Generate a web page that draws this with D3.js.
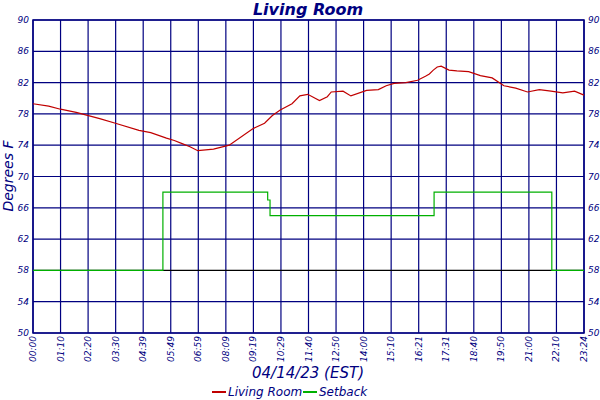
<!DOCTYPE html><html><head><meta charset="utf-8">
<script src="https://cdn.jsdelivr.net/npm/d3@7"></script>
<style>body{margin:0;background:#fff}text{font-family:"DejaVu Sans",sans-serif;font-style:italic}</style></head><body>
<svg id="c" width="600" height="400"></svg>
<script>
const xTickLabels=["00:00","01:10","02:20","03:30","04:39","05:49","06:59","08:09","09:19","10:29","11:40","12:50","14:00","15:10","16:21","17:31","18:40","19:50","21:00","22:10","23:24"];
const yTicks=[50,54,58,62,66,70,74,78,82,86,90];
const roomMinutes=[0,40,70,110,170,210,270,300,340,360,380,400,420,460,500,560,590,610,630,660,680,700,730,750,760,790,810,850,880,900,920,950,980,1000,1010,1020,1030,1040,1060,1080,1110,1140,1170,1200,1230,1260,1290,1320,1350,1380,1404];
const roomValues=[79.3,79.0,78.6,78.2,77.4,76.8,75.9,75.6,74.9,74.6,74.2,73.8,73.3,73.5,74.0,76.1,76.8,77.8,78.5,79.3,80.3,80.5,79.7,80.2,80.8,80.9,80.3,81.0,81.1,81.6,81.9,82.0,82.3,82.8,83.1,83.6,84.0,84.1,83.6,83.5,83.4,82.9,82.6,81.6,81.3,80.8,81.1,80.9,80.7,80.9,80.4];
const setMinutes=[0,331,331,598,598,604,604,1022,1022,1322,1322,1404];
const setValues=[58,58,68,68,67,67,65,65,68,68,58,58];
const svg=d3.select("#c");
const x=d3.scaleLinear().domain([0,1404]).range([33,584]);
const y=d3.scaleLinear().domain([50,90]).range([333,20]);
const navy="#000080";
const tickPos=xTickLabels.map((d,i)=>i*1404/20);
svg.append("g").selectAll("line").data(tickPos).join("line").attr("x1",d=>x(d)).attr("x2",d=>x(d)).attr("y1",20).attr("y2",333).attr("stroke",navy).attr("stroke-width",1.2);
svg.append("g").selectAll("line").data(yTicks).join("line").attr("x1",33).attr("x2",584).attr("y1",d=>y(d)).attr("y2",d=>y(d)).attr("stroke",d=>d==58?"#000":navy).attr("stroke-width",1.2);
svg.append("rect").attr("x",33).attr("y",20).attr("width",551).attr("height",313).attr("fill","none").attr("stroke",navy).attr("stroke-width",1.5);
svg.append("g").selectAll("text").data(yTicks).join("text").attr("x",29).attr("y",d=>y(d)+3).attr("text-anchor","end").attr("font-size",9).attr("fill",navy).text(d=>d);
svg.append("g").selectAll("text").data(yTicks).join("text").attr("x",588).attr("y",d=>y(d)+3).attr("font-size",9).attr("fill",navy).text(d=>d);
svg.append("g").selectAll("text").data(xTickLabels).join("text").attr("transform",(d,i)=>`translate(${x(tickPos[i])+3},336) rotate(-90)`).attr("text-anchor","end").attr("font-size",9).attr("fill",navy).text(d=>d);
const line=d3.line().x(d=>x(d[0])).y(d=>y(d[1]));
svg.append("path").datum(setMinutes.map((m,i)=>[m,setValues[i]])).attr("d",line).attr("fill","none").attr("stroke","#00b000").attr("stroke-width",1.2);
svg.append("path").datum(roomMinutes.map((m,i)=>[m,roomValues[i]])).attr("d",line).attr("fill","none").attr("stroke","#c00000").attr("stroke-width",1.2);
svg.append("text").attr("x",308).attr("y",15).attr("text-anchor","middle").attr("font-size",16).attr("font-weight","bold").attr("fill",navy).text("Living Room");
svg.append("text").attr("x",308).attr("y",378).attr("text-anchor","middle").attr("font-size",15).attr("fill",navy).text("04/14/23 (EST)");
svg.append("text").attr("transform","translate(13,176) rotate(-90)").attr("text-anchor","middle").attr("font-size",14).attr("fill",navy).text("Degrees F");
const leg=[["Living Room","#c00000",212],["Setback","#00b000",303]];
leg.forEach(([t,c,lx])=>{svg.append("line").attr("x1",lx).attr("x2",lx+14).attr("y1",392).attr("y2",392).attr("stroke",c).attr("stroke-width",2);
svg.append("text").attr("x",lx+16).attr("y",396).attr("font-size",12).attr("fill",navy).text(t);});
</script></body></html>
